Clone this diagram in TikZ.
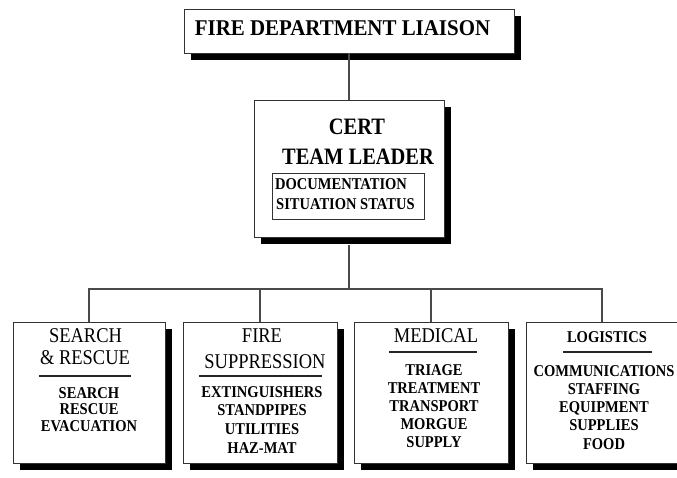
\documentclass[tikz,border=0pt]{standalone}
\usepackage{fontspec}
\setmainfont{Liberation Serif}
% slightly condensed cuts of the same serif
\newfontfamily\headfont[FakeStretch=0.93]{Liberation Serif}
\newfontfamily\leadfont[FakeStretch=0.87]{Liberation Serif}
\newfontfamily\titlefont[FakeStretch=0.88]{Liberation Serif}
\newfontfamily\itemfont[FakeStretch=0.88]{Liberation Serif}
\usetikzlibrary{shadows}
\definecolor{edge}{HTML}{333333}
\definecolor{wire}{HTML}{4A4A4A}
\begin{document}
\begin{tikzpicture}[x=1pt,y=-1pt,
  card/.style={draw=edge, line width=0.9pt, fill=white, inner sep=0pt,
    drop shadow={shadow xshift=7pt, shadow yshift=-7pt, fill=black, opacity=1}},
  innerbox/.style={draw=edge, line width=0.8pt, inner sep=0pt},
  wirestyle/.style={draw=wire, line width=1.3pt},
  rule/.style={draw=black!85, line width=1.2pt},
  head/.style={font=\headfont\fontsize{22.5}{22.5}\selectfont\bfseries, inner sep=0pt, anchor=base},
  leadtxt/.style={font=\leadfont\fontsize{23.5}{23.5}\selectfont\bfseries, inner sep=0pt, anchor=base},
  title/.style={font=\titlefont\fontsize{21}{21}\selectfont, inner sep=0pt, anchor=base},
  item/.style={font=\itemfont\fontsize{16.5}{16.5}\selectfont\bfseries, inner sep=0pt, anchor=base}]

\useasboundingbox (0,0) rectangle (677,478);

% junction of the branch bar
\coordinate (j) at (349,289);

% boxes
\node[card, minimum width=330pt, minimum height=44pt] (fdl) at (349,31) {};
\node[card, minimum width=190pt, minimum height=137pt] (lead) at (349,168.5) {};
\node[card, minimum width=152pt, minimum height=141pt] (sr) at (89,392.5) {};
\node[card, minimum width=154pt, minimum height=141pt] (fs) at (260,392.5) {};
\node[card, minimum width=154pt, minimum height=141pt] (med) at (431,392.5) {};
\node[card, minimum width=152pt, minimum height=141pt] (log) at (602,392.5) {};

% connectors
\draw[wirestyle] (fdl.south) -- (lead.north);
\draw[wirestyle] (lead.south |- 0,245) -- (j);
\draw[wirestyle] (sr.north) |- (j);
\draw[wirestyle] (fs.north) |- (j);
\draw[wirestyle] (med.north) |- (j);
\draw[wirestyle] (log.north) |- (j);

% top box
\node[head] (fdlt) at (342.5,36) {FIRE DEPARTMENT LIAISON};

% team leader box
\node[leadtxt] (cert) at (357,135) {CERT};
\node[leadtxt] (team) at (358,165) {TEAM LEADER};
\node[innerbox, minimum width=152pt, minimum height=46pt] (duty) at (348,196) {};
\node[item, anchor=base west] (doc) at (275,190) {DOCUMENTATION};
\node[item, anchor=base west] (sit) at (276,210) {SITUATION STATUS};

% search & rescue
\node[title] (sr1) at (85.5,342) {SEARCH};
\node[title] (sr2) at (85,364) {\& RESCUE};
\draw[rule] (39,376) -- (131,376);
\foreach \t [count=\i] in {SEARCH, RESCUE, EVACUATION}
  \node[item] (sri-\i) at (89,{398+(\i-1)*16.8}) {\t};

% fire suppression
\node[title] (fs1) at (262,342) {FIRE};
\node[title] (fs2) at (265,368) {SUPPRESSION};
\draw[rule] (199,376) -- (322,376);
\foreach \t [count=\i] in {EXTINGUISHERS, STANDPIPES, UTILITIES, HAZ-MAT}
  \node[item] (fsi-\i) at (262,{397+(\i-1)*18.7}) {\t};

% medical
\node[title] (med1) at (436,342) {MEDICAL};
\draw[rule] (389,352) -- (477,352);
\foreach \t [count=\i] in {TRIAGE, TREATMENT, TRANSPORT, MORGUE, SUPPLY}
  \node[item] (medi-\i) at (434,{375+(\i-1)*18.2}) {\t};

% logistics
\node[item] (log1) at (607,342) {LOGISTICS};
\draw[rule] (563,352) -- (652,352);
\foreach \t [count=\i] in {COMMUNICATIONS, STAFFING, EQUIPMENT, SUPPLIES, FOOD}
  \node[item] (logi-\i) at (604,{376+(\i-1)*18.3}) {\t};

\end{tikzpicture}
\end{document}
